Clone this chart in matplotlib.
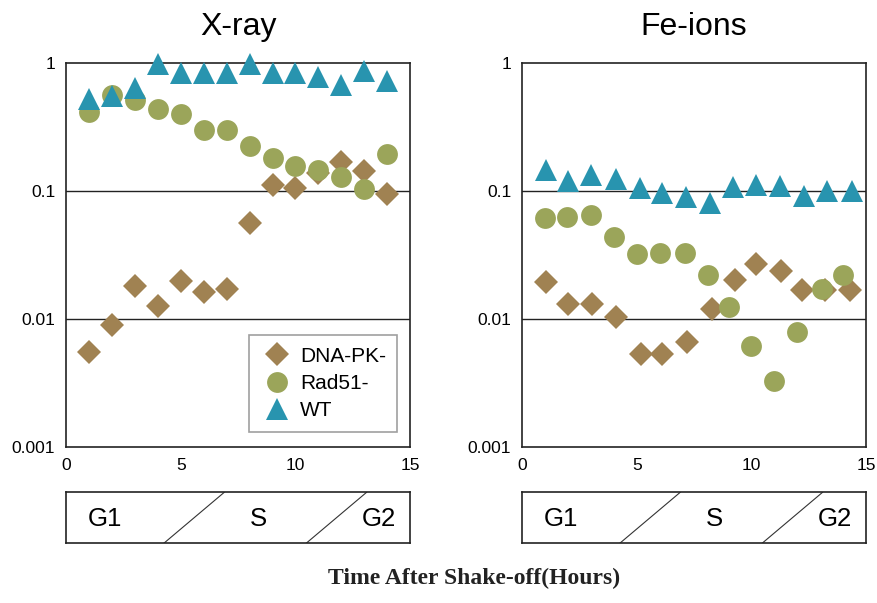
import matplotlib
matplotlib.use("Agg")
import matplotlib.pyplot as plt

plt.rcParams['font.family'] = ['Liberation Sans', 'DejaVu Sans']

# X-ray panel (hours after shake-off, surviving fraction)
xray_hours = [1, 2, 3, 4, 5, 6, 7, 8, 9, 10, 11, 12, 13, 14]
xray_dnapk = [0.0055, 0.0089, 0.018, 0.0126, 0.0198, 0.0163, 0.017, 0.056,
              0.111, 0.106, 0.137, 0.168, 0.142, 0.095]
xray_rad51 = [0.414, 0.566, 0.51, 0.44, 0.40, 0.30, 0.30, 0.225,
              0.182, 0.156, 0.147, 0.129, 0.103, 0.196]
xray_wt = [0.52, 0.55, 0.64, 0.975, 0.84, 0.84, 0.84, 0.975,
           0.83, 0.83, 0.77, 0.67, 0.86, 0.72]

# Fe-ions panel
fe_hours_dnapk = [1.05, 2.0, 3.05, 4.1, 5.2, 6.1, 7.2, 8.3, 9.3, 10.2, 11.3, 12.2, 13.2, 14.3]
fe_dnapk = [0.0195, 0.013, 0.013, 0.0104, 0.0053, 0.0053, 0.0066, 0.012,
            0.020, 0.027, 0.0239, 0.0168, 0.0168, 0.0168]
fe_hours_rad51 = [1.0, 1.95, 3.0, 4.0, 5.0, 6.0, 7.1, 8.1, 9.0, 10.0, 11.0, 12.0, 13.1, 14.0]
fe_rad51 = [0.061, 0.063, 0.0645, 0.0437, 0.032, 0.033, 0.033, 0.0219,
            0.0123, 0.0061, 0.0033, 0.0079, 0.017, 0.022]
fe_hours_wt = [1.03, 2.0, 3.0, 4.1, 5.15, 6.1, 7.15, 8.2, 9.2, 10.2, 11.25, 12.3, 13.3, 14.4]
fe_wt = [0.145, 0.12, 0.134, 0.124, 0.106, 0.097, 0.089, 0.081,
         0.107, 0.112, 0.109, 0.092, 0.100, 0.100]

# cell-cycle phase labels under each panel
phase_labels = ['G1', 'S', 'G2']
phase_pos = [1.7, 8.4, 13.65]
phase_breaks = [(4.27, 6.89), (10.48, 13.1)]

c_dnapk = '#A08252'
c_rad51 = '#9BA55A'
c_wt = '#2894AF'

fig = plt.figure(figsize=(8.77, 6.03), dpi=100)

panels = [
    ('X-ray', 0.0756, (xray_hours, xray_dnapk), (xray_hours, xray_rad51), (xray_hours, xray_wt)),
    ('Fe-ions', 0.5955, (fe_hours_dnapk, fe_dnapk), (fe_hours_rad51, fe_rad51), (fe_hours_wt, fe_wt)),
]

for i, (title, left, dna, rad, wt) in enumerate(panels):
    ax = fig.add_axes([left, 0.2587, 0.392, 0.637])
    ax.plot(dna[0], dna[1], 'D', color=c_dnapk, ms=12.5, mew=0, label='DNA-PK-', zorder=3, clip_on=False)
    ax.plot(rad[0], rad[1], 'o', color=c_rad51, ms=15, mew=0, label='Rad51-', zorder=3, clip_on=False)
    ax.plot(wt[0], wt[1], '^', color=c_wt, ms=16, mew=0, label='WT', zorder=3, clip_on=False)
    ax.set_yscale('log')
    ax.set_ylim(0.001, 1)
    ax.set_xlim(0, 15)
    ax.set_yticks([0.001, 0.01, 0.1, 1])
    ax.set_yticklabels(['0.001', '0.01', '0.1', '1'])
    ax.minorticks_off()
    ax.set_xticks([0, 5, 10, 15])
    ax.tick_params(length=0, labelsize=12.5, pad=8)
    for yv in [0.01, 0.1]:
        ax.axhline(yv, color='#222222', lw=1, zorder=1)
    for s in ax.spines.values():
        s.set_color('#222222')
        s.set_linewidth(1.2)
    ax.set_title(title, fontsize=23, pad=20)
    if i == 0:
        leg = ax.legend(loc='lower right', bbox_to_anchor=(0.963, 0.04), fontsize=15,
                        frameon=True, fancybox=False, handletextpad=0.3,
                        borderpad=0.55, labelspacing=0.4, handlelength=1.6,
                        borderaxespad=0)
        leg.get_frame().set_edgecolor('#888888')
        leg.get_frame().set_linewidth(1.2)

    # phase box
    bx = fig.add_axes([left, 0.0995, 0.392, 0.084])
    bx.set_xlim(0, 15)
    bx.set_ylim(0, 1)
    bx.set_xticks([])
    bx.set_yticks([])
    for s in bx.spines.values():
        s.set_color('#222222')
        s.set_linewidth(1.2)
    for x0, x1 in phase_breaks:
        bx.plot([x0, x1], [0, 1], color='#333333', lw=0.8)
    for lab, xp in zip(phase_labels, phase_pos):
        bx.text(xp, 0.48, lab, ha='center', va='center', fontsize=18.5)

fig.text(0.54, 0.023, 'Time After Shake-off(Hours)', ha='center', va='bottom',
         fontsize=17, family='Liberation Serif', fontweight='bold', color='#222222')

fig.savefig('out.png', dpi=100)
